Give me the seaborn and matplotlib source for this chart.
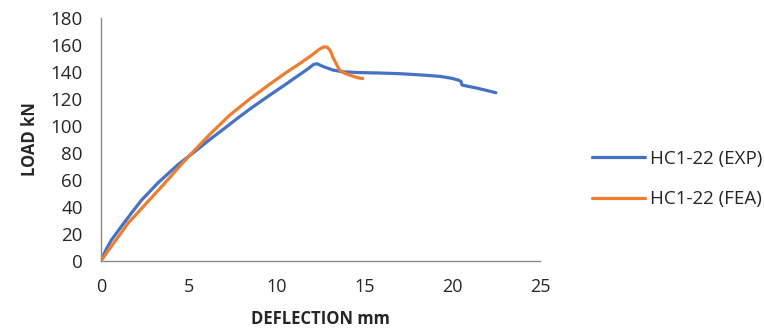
import matplotlib
matplotlib.use("Agg")
import matplotlib.pyplot as plt
import seaborn as sns
import pandas as pd

exp_x = [0, 0.3, 0.6, 1.18, 1.74, 2.31, 3.26, 4.4, 5.34, 6.2, 6.86, 7.7, 8.47, 9.4, 10.36, 11.3, 11.8, 12.1,
         12.3, 12.63, 13.2, 13.76, 14.7, 15.85, 17.0, 18.3, 19.3, 20.0, 20.35, 20.5, 20.55, 21.5, 22.48]
exp_y = [0, 8.5, 15.5, 25.8, 35.5, 45, 58, 71.5, 81, 90, 96.5, 105, 112.5, 121, 129.5, 138, 142.5, 145.6,
         146.2, 144.2, 141.5, 140.2, 139.6, 139.3, 138.8, 137.8, 136.8, 135.3, 134, 133, 130.4, 127.8, 124.7]
fea_x = [0, 1.55, 3.45, 4.96, 6.29, 7.33, 8.47, 9.4, 10.36, 11.4, 12.0, 12.44, 12.7, 12.9, 13.05,
         13.2, 13.4, 13.58, 13.85, 14.15, 14.45, 14.7, 14.9]
fea_y = [0, 28, 55, 77, 95, 108, 120, 129, 138, 147, 152.5, 157, 158.7, 158.3, 156,
         151, 146, 141.5, 139.3, 137.8, 136.5, 135.6, 135.2]
labels = ["HC1-22 (EXP)", "HC1-22 (FEA)"]
colors = ["#4472C4", "#ED7D31"]

df = pd.concat([
    pd.DataFrame({"x": exp_x, "y": exp_y, "s": labels[0]}),
    pd.DataFrame({"x": fea_x, "y": fea_y, "s": labels[1]}),
])

sns.set_style("white")
plt.rcParams["font.family"] = ["Open Sans", "DejaVu Sans"]

fig = plt.figure(figsize=(7.64, 3.35), dpi=100)
ax = fig.add_axes([0.132, 0.221, 0.575, 0.725])
sns.lineplot(data=df, x="x", y="y", hue="s", palette=colors, sort=False,
             estimator=None, linewidth=2.3, ax=ax)
for line in ax.lines:
    line.set_solid_joinstyle("round")
    line.set_solid_capstyle("round")
ax.set_xlim(0, 25)
ax.set_ylim(0, 180)
ax.set_xticks(range(0, 26, 5))
ax.set_yticks(range(0, 181, 20))
for s in ["top", "right"]:
    ax.spines[s].set_visible(False)
for s in ["left", "bottom"]:
    ax.spines[s].set_color("#898989")
    ax.spines[s].set_linewidth(1)
ax.tick_params(axis="x", length=0, labelsize=13, pad=12)
ax.tick_params(axis="y", length=0, labelsize=13.5, pad=13)
ax.set_xlabel("DEFLECTION mm", fontsize=12, fontweight="bold", labelpad=10)
ax.set_ylabel("LOAD kN", fontsize=12, fontweight="bold", labelpad=8)
ax.legend(loc="center left", bbox_to_anchor=(591.5 / 764, 1 - 179 / 335),
          bbox_transform=fig.transFigure, frameon=False, borderaxespad=0, borderpad=0,
          fontsize=13.5, handlelength=2.85, handletextpad=0.25, labelspacing=1.2)
fig.savefig("out.png", dpi=100)
